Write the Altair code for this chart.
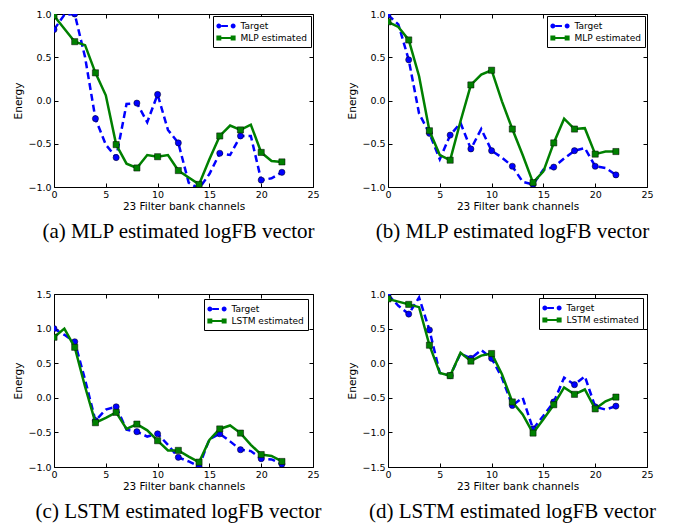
import altair as alt
import pandas as pd

CH = list(range(23))
XTICKS = [0, 5, 10, 15, 20, 25]
YTICKS_AB = [-1.0, -0.5, 0.0, 0.5, 1.0]
YTICKS_C = [-1.0, -0.5, 0.0, 0.5, 1.0, 1.5]
YTICKS_D = [-1.5, -1.0, -0.5, 0.0, 0.5, 1.0]

a_target = [0.82, 0.99, 1.0, 0.5, -0.21, -0.51, -0.66, -0.04, -0.03, -0.25, 0.07, -0.34,
            -0.49, -0.95, -1.02, -0.85, -0.61, -0.63, -0.41, -0.41, -0.92, -0.90, -0.83]
a_est = [0.98, 0.83, 0.68, 0.64, 0.32, 0.06, -0.51, -0.73, -0.78, -0.63, -0.65, -0.63,
         -0.81, -0.89, -0.97, -0.68, -0.41, -0.29, -0.34, -0.28, -0.60, -0.70, -0.71]

b_target = [0.99, 0.88, 0.47, -0.15, -0.38, -0.68, -0.40, -0.26, -0.56, -0.33, -0.58, -0.66,
            -0.76, -0.94, -0.97, -0.80, -0.77, -0.67, -0.58, -0.55, -0.76, -0.78, -0.86]
b_est = [0.91, 0.85, 0.70, 0.28, -0.35, -0.63, -0.69, -0.24, 0.18, 0.30, 0.35, -0.01,
         -0.33, -0.63, -0.95, -0.82, -0.49, -0.21, -0.33, -0.32, -0.62, -0.59, -0.59]

c_target = [1.0, 0.91, 0.81, 0.26, -0.33, -0.17, -0.13, -0.46, -0.49, -0.56, -0.52, -0.68,
            -0.86, -0.92, -0.99, -0.60, -0.52, -0.63, -0.75, -0.77, -0.88, -0.89, -0.96]
c_est = [0.875, 1.0, 0.73, 0.16, -0.36, -0.29, -0.21, -0.45, -0.38, -0.47, -0.62, -0.76,
         -0.76, -0.85, -0.93, -0.61, -0.45, -0.40, -0.51, -0.68, -0.82, -0.84, -0.92]

d_target = [0.99, 0.83, 0.71, 0.95, 0.48, -0.14, -0.18, 0.14, 0.07, 0.19, 0.07, -0.21,
            -0.61, -0.50, -0.95, -0.76, -0.56, -0.21, -0.31, -0.19, -0.63, -0.67, -0.62]
d_est = [0.93, 0.89, 0.85, 0.81, 0.26, -0.14, -0.18, 0.15, 0.03, 0.11, 0.14, -0.16,
         -0.56, -0.74, -1.01, -0.81, -0.60, -0.35, -0.45, -0.38, -0.66, -0.55, -0.49]

BLUE = "#0000ff"
GREEN = "#008000"

# legend glyphs: marker - line - marker (unit coords)
PATH_TARGET = ("M-1.48,0A0.38,0.38,0,1,0,-0.72,0A0.38,0.38,0,1,0,-1.48,0Z"
               "M0.72,0A0.38,0.38,0,1,0,1.48,0A0.38,0.38,0,1,0,0.72,0Z"
               "M-0.72,-0.17L0.3,-0.17L0.3,0.17L-0.72,0.17Z")
PATH_EST = ("M-1.48,-0.38H-0.72V0.38H-1.48Z"
            "M0.72,-0.38H1.48V0.38H0.72Z"
            "M-0.72,-0.17H0.72V0.17H-0.72Z")


def panel(target, est, est_name, ydom, yticks, caption, leg_offset):
    long = pd.DataFrame({
        "x": CH + CH,
        "v": target + est,
        "series": ["Target"] * len(CH) + [est_name] * len(CH),
    })
    base = alt.Chart(long)
    xs = alt.Scale(domain=[0, 25], nice=False, zero=False)
    ys = alt.Scale(domain=ydom, nice=False, zero=False)

    def X(axis):
        return alt.X("x:Q", scale=xs, axis=axis)

    def Y(axis):
        return alt.Y("v:Q", scale=ys, axis=axis)

    ax_bottom = alt.Axis(orient="bottom", values=XTICKS, format="d",
                         title="23 Filter bank channels")
    ax_left = alt.Axis(orient="left", values=yticks, format=".1f", title="Energy")
    ax_top = alt.Axis(orient="top", values=XTICKS, labels=False, title=None)
    ax_right = alt.Axis(orient="right", values=yticks, labels=False, title=None)

    t_line = base.transform_filter(alt.datum.series == "Target").mark_line(
        color=BLUE, strokeWidth=2.5, strokeDash=[7, 4], clip=True
    ).encode(x=X(ax_bottom), y=Y(ax_left))
    t_pts = base.transform_filter(
        "datum.series == 'Target' && datum.x % 2 == 0"
    ).mark_point(shape="circle", filled=True, fill=BLUE, stroke="black",
                 strokeWidth=0.5, size=38, opacity=1, clip=True
    ).encode(x=X(None), y=Y(None))
    e_line = base.transform_filter(alt.datum.series == est_name).mark_line(
        color=GREEN, strokeWidth=2.5, clip=True
    ).encode(x=X(None), y=Y(None))
    e_pts = base.transform_filter(
        f"datum.series == '{est_name}' && datum.x % 2 == 0"
    ).mark_point(shape="square", filled=True, fill=GREEN, stroke="black",
                 strokeWidth=0.5, size=38, opacity=1, clip=True
    ).encode(x=X(None), y=Y(None))

    leg = dict(title=None, orient="top-right", offset=leg_offset, symbolSize=169,
               symbolStrokeWidth=0, symbolOffset=3, labelOffset=8,
               labelFont="DejaVu Sans", labelFontSize=9, labelColor="black",
               fillColor="white", strokeColor="black", padding=3.5, rowPadding=0,
               cornerRadius=0)
    dom = ["Target", est_name]
    legend_layer = base.transform_filter("datum.x < 0").mark_point(
        filled=True, opacity=1
    ).encode(
        x=X(ax_top), y=Y(ax_right),
        color=alt.Color("series:N", scale=alt.Scale(domain=dom, range=[BLUE, GREEN]),
                        legend=alt.Legend(**leg)),
        shape=alt.Shape("series:N", scale=alt.Scale(domain=dom, range=[PATH_TARGET, PATH_EST]),
                        legend=alt.Legend(**leg)),
    )

    return alt.layer(t_line, t_pts, e_line, e_pts, legend_layer).resolve_axis(
        x="independent", y="independent"
    ).properties(
        width=259, height=173,
        title=alt.TitleParams(caption, orient="bottom", font="Liberation Serif",
                              fontSize=21, fontWeight="normal", color="black",
                              offset=9, anchor="middle", frame="group", dx=-5),
    )


pa = panel(a_target, a_est, "MLP estimated", [-1, 1], YTICKS_AB,
           "(a) MLP estimated logFB vector", 2)
pb = panel(b_target, b_est, "MLP estimated", [-1, 1], YTICKS_AB,
           "(b) MLP estimated logFB vector", 2)
pc = panel(c_target, c_est, "LSTM estimated", [-1, 1.5], YTICKS_C,
           "(c) LSTM estimated logFB vector", 5)
pd_ = panel(d_target, d_est, "LSTM estimated", [-1.5, 1], YTICKS_D,
            "(d) LSTM estimated logFB vector", 4)

chart = alt.concat(
    pa, pb, pc, pd_, columns=2, spacing={"row": 107, "column": 75}, bounds="flush"
).resolve_scale(
    x="independent", y="independent", color="independent", shape="independent"
).resolve_legend(
    color="independent", shape="independent"
).configure_view(
    stroke="black", strokeWidth=1
).configure_axis(
    labelFont="DejaVu Sans", labelFontSize=9.5, labelColor="black",
    titleFont="DejaVu Sans", titleFontSize=10.5, titleFontWeight="normal",
    titleColor="black", tickColor="black", tickSize=4, tickWidth=1, offset=-4,
    domain=False, grid=False, labelPadding=3, titlePadding=4, labelFlush=False,
).configure_axisX(
    labelPadding=2, titlePadding=3
).properties(
    background="white",
    padding={"top": 0, "left": 5, "right": 5, "bottom": 5},
)

chart.save("out.html", embed_options={"renderer": "svg", "actions": False})
